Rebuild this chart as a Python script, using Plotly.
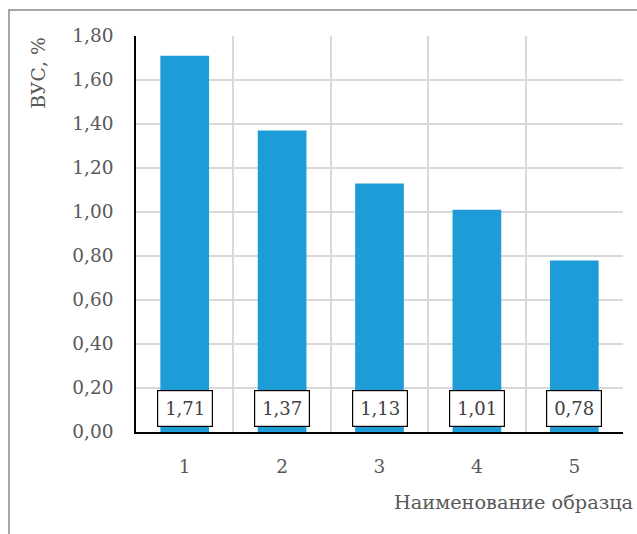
import plotly.graph_objects as go

categories = [1, 2, 3, 4, 5]
values = [1.71, 1.37, 1.13, 1.01, 0.78]
y_title = "ВУС, %"
x_title = "Наименование образца"

FONT = "DejaVu Serif"
TXT = "#595959"

fig = go.Figure()
fig.add_trace(go.Bar(x=categories, y=values, width=0.5, marker=dict(color="#1e9cd7", line=dict(width=0)),
                     hoverinfo="skip"))

for c, v in zip(categories, values):
    fig.add_annotation(x=c, y=0.109, xref="x", yref="y", text=f"{v:.2f}".replace(".", ","),
                       showarrow=False, bgcolor="white", bordercolor="black", borderwidth=1.2,
                       borderpad=6, width=42, height=23,
                       font=dict(family=FONT, size=18, color="#404040"))

fig.add_annotation(x=-0.2, y=1.002, xref="paper", yref="paper", text=y_title, textangle=-90,
                   showarrow=False, xanchor="center", yanchor="top",
                   font=dict(family=FONT, size=18.8, color=TXT))
fig.add_annotation(x=1.025, y=-0.178, xref="paper", yref="paper", text=x_title,
                   showarrow=False, xanchor="right", yanchor="middle",
                   font=dict(family=FONT, size=19.3, color=TXT))

# outer chart border (left and top)
fig.add_shape(type="path", xref="paper", yref="paper",
              path="M -0.2608,-0.4 L -0.2608,1.0657 L 1.1,1.0657",
              line=dict(color="#a6a6a6", width=2))

fig.update_layout(
    width=637, height=534,
    margin=dict(l=136, r=14, t=36, b=102),
    paper_bgcolor="white", plot_bgcolor="white",
    separators=", ",
    showlegend=False,
    font=dict(family=FONT, size=18.5, color=TXT),
    xaxis=dict(range=[0.5, 5.5], tickvals=categories, showgrid=False,
               showline=True, linecolor="black", linewidth=1.5,
               ticks="", ticklabelstandoff=17, zeroline=False,
               minor=dict(tick0=0.5, dtick=1, showgrid=True, gridcolor="#d9d9d9", gridwidth=1.5, ticks=""),
               tickfont=dict(family=FONT, size=18.5, color=TXT)),
    yaxis=dict(range=[0, 1.8], dtick=0.2, tick0=0, tickformat=".2f", showgrid=True,
               gridcolor="#d9d9d9", gridwidth=1.5, showline=True, linecolor="black", linewidth=1.5,
               ticks="", ticklabelstandoff=17, zeroline=False,
               tickfont=dict(family=FONT, size=18.5, color=TXT)),
)
fig.write_html("out.html")
